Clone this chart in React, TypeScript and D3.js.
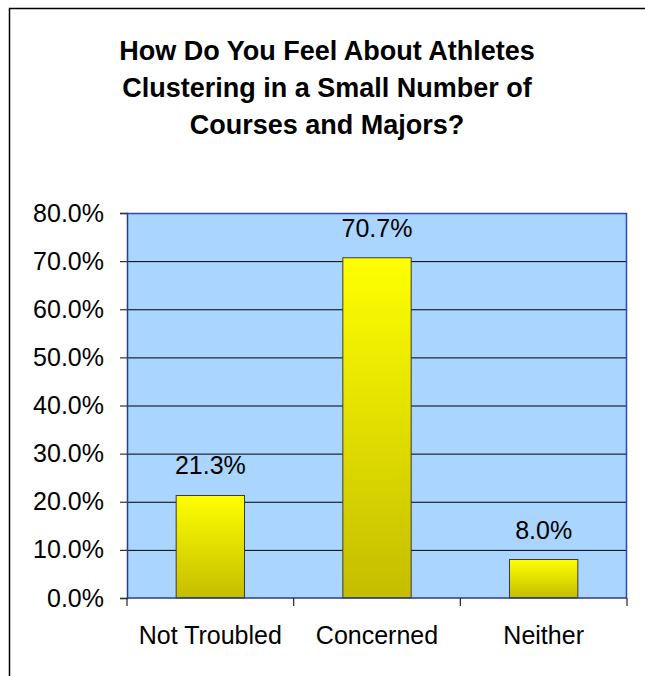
import React, { useRef, useEffect } from "react";
import * as d3 from "d3";

const titleLines = [
  "How Do You Feel About Athletes",
  "Clustering in a Small Number of",
  "Courses and Majors?",
];
const categories = ["Not Troubled", "Concerned", "Neither"];
const values = [21.3, 70.7, 8.0];
const yTicks = [0, 10, 20, 30, 40, 50, 60, 70, 80];

const App: React.FC = () => {
  const ref = useRef<SVGSVGElement | null>(null);

  useEffect(() => {
    const svg = d3.select(ref.current);
    svg.selectAll("*").remove();

    const W = 645;
    const H = 676;
    const plot = { left: 127, right: 627, top: 213, bottom: 598 };
    const font = "'Liberation Sans', Arial, sans-serif";

    svg.attr("width", W).attr("height", H).attr("viewBox", `0 0 ${W} ${H}`);

    // gradient for bars
    const defs = svg.append("defs");
    const grad = defs
      .append("linearGradient")
      .attr("id", "barGrad")
      .attr("x1", 0)
      .attr("y1", 0)
      .attr("x2", 0)
      .attr("y2", 1);
    grad.append("stop").attr("offset", "0%").attr("stop-color", "#ffff00");
    grad.append("stop").attr("offset", "100%").attr("stop-color", "#c4bd00");

    svg.append("rect").attr("width", W).attr("height", H).attr("fill", "#fff");

    // chart frame (only top and left edges visible)
    svg
      .append("rect")
      .attr("x", 9.5)
      .attr("y", 8.5)
      .attr("width", W + 20)
      .attr("height", H + 20)
      .attr("fill", "none")
      .attr("stroke", "#000")
      .attr("stroke-width", 1.5);

    // title
    svg
      .append("g")
      .selectAll("text")
      .data(titleLines)
      .join("text")
      .attr("x", 327)
      .attr("y", (_d, i) => 60 + i * 37)
      .attr("text-anchor", "middle")
      .style("font-family", font)
      .style("font-weight", "bold")
      .style("font-size", "27px")
      .text((d) => d);

    const x = d3
      .scaleBand()
      .domain(categories)
      .range([plot.left, plot.right])
      .padding(0);

    const y = d3
      .scaleLinear()
      .domain([0, 80])
      .range([plot.bottom, plot.top]);

    // plot area
    svg
      .append("rect")
      .attr("x", plot.left)
      .attr("y", plot.top)
      .attr("width", plot.right - plot.left)
      .attr("height", plot.bottom - plot.top)
      .attr("fill", "#a9d5ff");

    // gridlines
    svg
      .append("g")
      .selectAll("line")
      .data(yTicks.filter((t) => t > 0 && t < 80))
      .join("line")
      .attr("x1", plot.left)
      .attr("x2", plot.right)
      .attr("y1", (d) => y(d) + 0.5)
      .attr("y2", (d) => y(d) + 0.5)
      .attr("stroke", "#000")
      .attr("stroke-width", 1);

    // plot border (top + right in blue)
    svg
      .append("path")
      .attr(
        "d",
        `M${plot.left},${plot.top + 0.5}H${plot.right - 0.5}V${plot.bottom}`
      )
      .attr("fill", "none")
      .attr("stroke", "#2a45c8")
      .attr("stroke-width", 1.5);

    // bars
    const barW = x.bandwidth() * 0.41;
    svg
      .append("g")
      .selectAll("rect")
      .data(values)
      .join("rect")
      .attr("x", (_d, i) => (x(categories[i]) as number) + (x.bandwidth() - barW) / 2)
      .attr("y", (d) => y(d))
      .attr("width", barW)
      .attr("height", (d) => plot.bottom - y(d))
      .attr("fill", "url(#barGrad)")
      .attr("stroke", "#3a3a3a")
      .attr("stroke-width", 1);

    // data labels
    svg
      .append("g")
      .selectAll("text")
      .data(values)
      .join("text")
      .attr("x", (_d, i) => (x(categories[i]) as number) + x.bandwidth() / 2)
      .attr("y", (d) => y(d) - 21)
      .attr("text-anchor", "middle")
      .style("font-family", font)
      .style("font-size", "25px")
      .attr("fill", "#000")
      .text((d) => d.toFixed(1) + "%");

    // y axis
    const yAxis = svg
      .append("g")
      .attr("transform", `translate(${plot.left},0)`)
      .call(
        d3
          .axisLeft(y)
          .tickValues(yTicks)
          .tickSize(7)
          .tickPadding(16)
          .tickFormat((d) => (d as number).toFixed(1) + "%")
      );
    yAxis.select(".domain").attr("stroke", "#2b3a8c").attr("stroke-width", 1.5);
    yAxis.selectAll(".tick line").attr("stroke", "#333").attr("stroke-width", 1.2);
    yAxis
      .selectAll("text")
      .style("font-family", font)
      .style("font-size", "25px")
      .attr("fill", "#000");

    // x axis
    const xAxis = svg.append("g").attr("transform", `translate(0,${plot.bottom})`);
    xAxis
      .append("line")
      .attr("x1", plot.left)
      .attr("x2", plot.right)
      .attr("stroke", "#2b3a8c")
      .attr("stroke-width", 1.5);
    xAxis
      .selectAll("line.tick")
      .data(categories.concat(["end"]))
      .join("line")
      .attr("class", "tick")
      .attr("x1", (_d, i) => plot.left + i * x.step())
      .attr("x2", (_d, i) => plot.left + i * x.step())
      .attr("y1", 0)
      .attr("y2", 8)
      .attr("stroke", "#222")
      .attr("stroke-width", 1.2);
    xAxis
      .selectAll("text")
      .data(categories)
      .join("text")
      .attr("x", (d) => (x(d) as number) + x.bandwidth() / 2)
      .attr("y", 46)
      .attr("text-anchor", "middle")
      .style("font-family", font)
      .style("font-size", "25px")
      .attr("fill", "#000")
      .text((d) => d);
  }, []);

  return (
    <svg
      ref={ref}
      style={{ position: "absolute", left: 0, top: 0, display: "block" }}
    />
  );
};

export default App;
